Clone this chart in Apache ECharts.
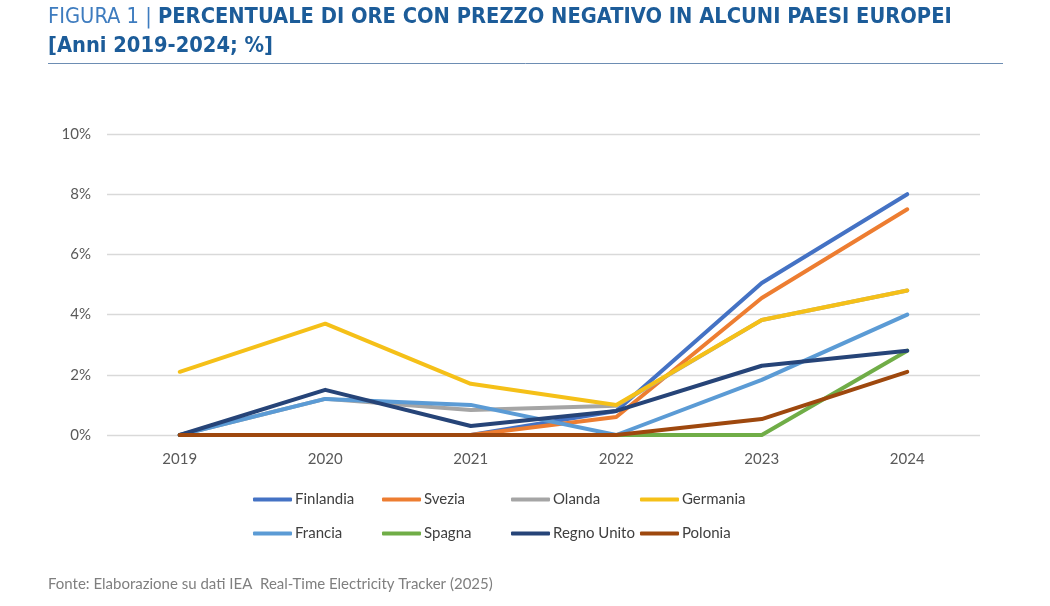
<!DOCTYPE html>
<html><head><meta charset="utf-8">
<script src="https://cdn.jsdelivr.net/npm/echarts@6/dist/echarts.min.js"></script>
<style>html,body{margin:0;padding:0;background:#fff}#c{width:1050px;height:606px}</style>
</head><body><div id="c"></div>
<script>
const years = ['2019','2020','2021','2022','2023','2024'];
const finlandia   = [0, 0, 0, 0.8, 5.05, 8.0];
const svezia      = [0, 0, 0, 0.6, 4.55, 7.5];
const olanda      = [0, 1.2, 0.83, 0.97, 3.82, 4.8];
const germania    = [2.1, 3.7, 1.7, 1.0, 3.82, 4.8];
const francia     = [0, 1.2, 1.0, 0, 1.83, 4.0];
const spagna      = [0, 0, 0, 0, 0, 2.8];
const regnoUnito  = [0, 1.5, 0.3, 0.8, 2.3, 2.8];
const polonia     = [0, 0, 0, 0, 0.53, 2.1];
const yTicks = [0, 2, 4, 6, 8, 10];

const names = ['Finlandia','Svezia','Olanda','Germania','Francia','Spagna','Regno Unito','Polonia'];
const datas = [finlandia, svezia, olanda, germania, francia, spagna, regnoUnito, polonia];
const colors = ['#4472C4','#ED7D31','#A5A5A5','#F5C018','#5B9BD5','#70AD47','#264478','#9E480E'];
const font = 'Lato, "Open Sans", sans-serif';
const tfont = '"DejaVu Sans Condensed", sans-serif';

const legends = names.map((n, i) => ({
  data: [n], left: 253 + (i % 4) * 129, top: 492 + Math.floor(i / 4) * 34,
  icon: 'roundRect', itemWidth: 39, itemHeight: 4, itemGap: 0, padding: 0,
  textStyle: {color: '#404040', fontSize: 15, fontFamily: font, padding: [0, 0, 0, -2]}
}));

const chart = echarts.init(document.getElementById('c'));
chart.setOption({
  animation: false,
  color: colors,
  graphic: [
    {type:'text', left:48, top:6, style:{
      rich:{a:{font:'21.7px ' + tfont, fill:'#3E7CBF'},
            b:{font:'bold 21.7px ' + tfont, fill:'#1C5C99'}},
      text:'{a|FIGURA 1 | }{b|PERCENTUALE DI ORE CON PREZZO NEGATIVO IN ALCUNI PAESI EUROPEI}'}},
    {type:'text', left:48, top:35, style:{font:'bold 21.7px ' + tfont, fill:'#1C5C99', text:'[Anni 2019-2024; %]'}},
    {type:'line', shape:{x1:48, y1:63.5, x2:1003, y2:63.5}, style:{stroke:'#6D8DB3', lineWidth:1}},
    {type:'text', left:48, top:577, style:{font:'15px ' + font, fill:'#7F7F7F', text:'Fonte: Elaborazione su dati IEA  Real-Time Electricity Tracker (2025)'}}
  ],
  grid: {left:107, right:70, top:134, bottom:171},
  xAxis: {
    type:'category', data: years, boundaryGap:true,
    axisLine:{show:false}, axisTick:{show:false},
    axisLabel:{color:'#595959', fontSize:15, fontFamily:font, margin:17}
  },
  yAxis: {
    type:'value', min:0, max:10, interval:2,
    axisLine:{show:false}, axisTick:{show:false},
    splitLine:{lineStyle:{color:'#D9D9D9', width:1.3}},
    axisLabel:{color:'#595959', fontSize:15, fontFamily:font, margin:16,
      formatter: v => yTicks.includes(v) ? v + '%' : ''}
  },
  legend: legends,
  series: names.map((n,i) => ({
    name:n, type:'line', data:datas[i], symbol:'none',
    lineStyle:{width:4, color:colors[i], cap:'round', join:'round'},
    itemStyle:{color:colors[i]}
  }))
});
</script></body></html>
